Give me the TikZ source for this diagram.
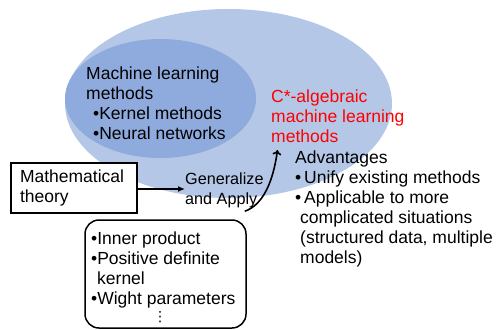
\documentclass[tikz,border=0pt]{standalone}
\usepackage{fontspec}
\setmainfont{Liberation Sans}
\newfontfamily\dejavu{DejaVu Sans}
\usetikzlibrary{arrows.meta,shapes.geometric}
\definecolor{outerblue}{HTML}{B4C7E7}
\definecolor{innerblue}{HTML}{8FAADC}
\definecolor{redtxt}{HTML}{FF0000}
\begin{document}
\begin{tikzpicture}[x=1pt,y=-1pt,
  txt/.style={anchor=north west,inner sep=0pt,align=left,font=\fontsize{17.5}{20}\selectfont},
  boxline/.style={draw=black,line width=1.5pt,fill=white},
  conn/.style={line width=1.6pt}]
\useasboundingbox (0,0) rectangle (502,329);
% ellipses
\node[ellipse,fill=outerblue,minimum width=327pt,minimum height=189pt,inner sep=0pt] (outer) at (228.5,103.5) {};
\node[ellipse,fill=innerblue,minimum width=191pt,minimum height=119pt,inner sep=0pt] (inner) at (160.5,98.5) {};
% inner text
\node[txt] (ml) at (86,67) {Machine learning\\methods\\\hspace*{7pt}\textbullet Kernel methods\\\hspace*{7pt}\textbullet Neural networks};
% C* text
\node[txt,text=redtxt] (cstar) at (271,90) {C*-algebraic\\machine learning\\methods};
% advantages
\node[txt] (adv) at (295,151) {Advantages\\\textbullet\,Unify existing methods\\\textbullet\,Applicable to more\\\hspace*{5pt}complicated situations\\\hspace*{5pt}(structured data, multiple\\\hspace*{5pt}models)};
% math box
\node[boxline,minimum width=126pt,minimum height=50pt,text width=108pt,inner sep=0pt,align=left,font=\fontsize{17.5}{20}\selectfont] (math) at (74,188) {Mathematical\\theory};
% generalize
\node[txt,font=\fontsize{16.2}{20}\selectfont] (gen) at (185,172.5) {Generalize\\and Apply};
% rounded box
\node[boxline,rounded corners=14pt,minimum width=161pt,minimum height=108pt,inner sep=0pt] (rbox) at (165.5,274) {};
\node[txt] (items) at (91,232) {\textbullet Inner product\\\textbullet Positive definite\\\hspace*{6pt}kernel\\\textbullet Wight parameters};
\node[inner sep=0pt,font=\dejavu\fontsize{14}{15}\selectfont] (dots) at (160,317) {⋮};
% connectors
\coordinate (tip) at (277.5,150);
\draw[conn,-{Latex[length=7pt,width=6pt]}] (math.east |- 0,189) -- (gen.west |- 0,189);
\draw[conn,-{To[length=5pt,width=9pt]}] ([xshift=-2pt,yshift=8pt]rbox.north east) .. controls (263,205) and (273,182) .. (tip);
\end{tikzpicture}
\end{document}
